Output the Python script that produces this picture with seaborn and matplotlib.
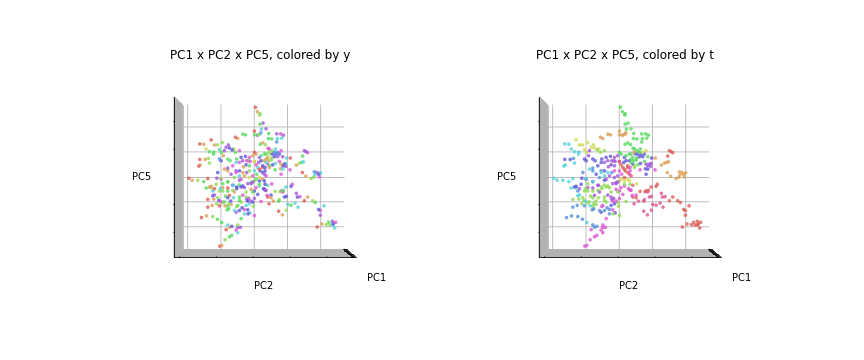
import matplotlib
matplotlib.use("Agg")
import matplotlib.pyplot as plt
import numpy as np
import seaborn as sns

pc2 = [
    0.05, 0.11, 0.19, 0.18, 0.19, 0.28, 0.23, 0.37, 0.02, 0.14,
    0.02, 0.11, 0.20, 0.21, -0.55, -0.48, -0.33, -0.25, 0.27, 0.19,
    -1.28, -1.62, -1.50, -1.18, -1.09, -0.94, -1.43, -1.33, -1.20, -1.21,
    -1.03, -0.97, -0.83, -0.76, -0.73, -0.65, -0.60, -0.55, -0.43, -0.88,
    -0.91, -1.62, -1.46, -1.36, -1.33, -1.65, -1.61, 0.45, 0.69, 0.81,
    0.89, 0.44, 0.54, 0.71, 0.84, 0.69, 0.35, 0.43, 1.52, 1.57,
    1.62, 1.47, 1.49, 1.44, 1.37, 1.28, 1.10, 0.99, 1.09, 1.46,
    1.82, 1.90, 1.84, 1.95, 2.01, 1.56, 1.72, 1.80, 1.97, 0.65,
    0.62, 0.72, 0.57, 0.67, 0.77, 0.62, 0.72, 0.82, 0.87, 0.54,
    0.77, 0.65, 0.82, 0.92, 0.97, 0.87, 0.96, 0.87, 0.80, 0.47,
    0.64, 0.46, 0.50, 0.37, 0.32, 0.42, 0.52, 0.37, 0.47, 0.34,
    0.34, 0.32, 0.82, 0.54, 0.34, 0.64, 0.79, 0.89, 0.97, 1.12,
    1.16, 0.87, 0.82, 0.98, 0.92, 1.28, 1.31, 1.39, 1.62, 1.52,
    1.77, 1.85, 1.24, 1.33, 1.12, 1.02, 0.46, 0.59, 0.75, 0.77,
    0.40, 0.52, 0.42, 0.35, 0.75, 0.86, 0.98, 2.11, 1.95, 2.00,
    2.00, 1.91, 2.05, 2.18, 2.25, 2.36, 2.39, 2.46, 2.36, 2.43,
    2.29, -1.85, -1.68, -1.50, -1.38, -0.99, -0.78, -0.61, -1.43, -1.33,
    -1.28, -1.18, -1.13, -1.23, -1.18, -1.23, -1.38, -1.20, -1.08, -1.38,
    -1.25, -1.03, -0.86, -1.57, -1.42, -1.23, -1.09, -0.96, -0.78, -0.66,
    -0.73, -0.83, -0.48, -0.48, -0.40, -0.53, -0.48, -0.66, -0.73, -0.86,
    -0.96, -1.02, -1.00, -0.89, -0.69, -0.75, -0.80, -0.75, -0.58, -0.51,
    -0.43, -0.18, -0.17, -0.28, 0.02, -0.38, -0.53, -0.18, -0.08, -0.21,
    -0.13, -0.01, -0.23, -0.03, -0.43, -0.38, 0.22, -0.43, -0.58, -0.73,
    -0.78, -0.63, -0.43, -0.18, -0.08, -0.03, 0.07, 0.17, 0.29, -0.03,
    -0.51, -0.38, -0.23, -0.93, -1.00, -0.93, -0.63, -0.38, -0.25, -0.33,
    -0.21, -0.11, 0.02, 0.07, -0.03, 0.15, 0.22, 0.02, -0.13, 0.27,
    0.37, 0.44, -0.53, -0.51, -0.78, -0.71, -1.03, -0.98, -0.88, -0.78,
    -0.63, -0.53, -1.08, -1.11, -0.98, -0.78, -0.53, -0.43, -0.33, -0.28,
    -0.38, -0.43, -0.13, 0.02, 0.17, 0.27, 0.37, 0.17, 0.07, -0.13,
    -0.08, 0.02, 0.17, 0.32, -0.33, -0.43, -0.51, -0.28, -0.08, 0.02,
    0.17, 0.32, 0.37, -0.78, -0.93, -1.03, -1.28, -0.13, 0.02, 0.07,
    0.19, 0.12, 0.27, -0.31, -0.23, -0.43, -0.15, 0.32, 0.42, 0.57,
    0.22, 0.17, 0.55, 0.47, -0.78, -0.68, -0.58, -0.21, -0.03, 0.09,
    0.27, 0.42, 0.52, -0.23, -0.33, -0.61, -0.78, -0.85, -1.05, -1.11,
    -0.93, -0.78, -0.68, -0.48, -0.35, -0.28, -0.11, -0.15, 0.02, 0.12,
    -1.95,
]
pc5 = [
    2.07, 1.94, 1.88, 1.84, 1.57, 1.60, 1.42, 1.43, 1.36, 1.25,
    1.25, 1.24, 1.28, 1.31, 1.18, 1.14, 1.27, 1.25, 1.01, 0.97,
    1.10, 0.98, 0.97, 0.95, 0.95, 1.02, 0.83, 0.75, 0.74, 0.68,
    0.81, 0.73, 0.88, 0.95, 0.86, 0.80, 0.83, 0.73, 0.78, 0.78,
    0.63, 0.52, 0.52, 0.55, 0.41, 0.32, 0.35, 1.29, 1.28, 1.28,
    1.24, 1.14, 1.13, 1.14, 1.15, 1.04, 0.96, 0.85, 0.78, 0.75,
    0.72, 0.62, 0.45, 0.43, 0.41, 0.35, 0.56, 0.56, 0.21, 0.13,
    0.15, 0.13, 0.06, 0.08, 0.12, 0.02, -0.05, -0.01, 0.00, 0.83,
    0.73, 0.73, 0.68, 0.68, 0.68, 0.60, 0.60, 0.78, 0.60, 0.56,
    0.46, 0.40, 0.38, 0.38, 0.40, 0.33, 0.31, 0.23, 0.24, 0.28,
    0.21, 0.73, 0.68, 0.68, 0.68, 0.58, 0.50, 0.43, 0.33, 0.28,
    0.18, 0.08, 0.08, -0.21, -0.22, -0.43, -0.44, -0.40, -0.30, -0.28,
    -0.22, -0.45, -0.42, -0.58, -0.60, -0.49, -0.60, -0.59, -0.60, -0.71,
    -0.71, -0.76, -0.78, -0.90, -0.84, -0.82, -0.80, -0.72, -0.72, -0.68,
    -0.55, -0.62, -0.60, -0.40, -1.02, -1.13, -0.99, -0.86, -0.97, -1.00,
    -1.14, -1.49, -1.40, -1.42, -1.35, -1.32, -1.40, -1.35, -1.43, -1.52,
    -1.43, -0.10, -0.10, -0.14, -0.05, -0.05, -0.15, -0.25, -0.33, -0.30,
    -0.28, -0.35, -0.22, -0.42, -0.54, -0.56, -0.67, -0.66, -0.62, -0.90,
    -0.85, -0.86, -0.86, -1.21, -1.16, -1.18, -1.26, -1.36, -1.43, -1.47,
    -1.50, -1.57, -1.43, -1.50, -1.50, -1.58, -1.66, -1.74, -1.78, -1.87,
    -2.04, -2.06, -0.73, -0.74, -0.72, -0.80, -0.98, -0.95, -1.00, -0.88,
    -1.00, -0.98, -1.10, -1.10, -1.15, -1.24, -1.05, -0.72, -0.72, -0.67,
    -0.80, -0.87, -0.85, -0.75, -0.70, -0.75, -0.73, -0.60, -0.45, -0.55,
    -0.33, -0.25, -0.10, -0.20, -0.20, -0.15, -0.32, -0.22, -0.35, -0.45,
    -0.30, -0.30, -0.45, -0.42, -0.35, -0.20, -0.40, 0.58, 0.61, 0.48,
    0.48, 0.46, 0.73, 0.68, 0.63, 0.43, 0.48, 0.45, 0.33, 0.33,
    0.53, 0.48, 0.43, 0.53, 0.53, 0.48, 0.53, 0.48, 0.23, 0.26,
    0.33, 0.13, 0.13, -0.04, -0.07, -0.14, 0.18, 0.18, 0.13, 0.03,
    -0.07, 0.03, 0.18, 0.18, 0.23, 0.13, 0.03, -0.02, -0.07, -0.02,
    -0.17, -0.12, -0.12, -0.12, -0.27, -0.24, -0.35, -0.32, -0.37, -0.42,
    -0.27, -0.37, -0.40, -0.42, -0.32, -0.42, -0.32, 0.58, 0.46, 0.36,
    0.18, 0.28, 0.28, 0.30, 0.36, 0.43, 0.48, 0.48, 0.38, 0.36,
    0.63, 0.58, 0.78, 0.83, 0.18, 0.08, -0.02, 0.13, 0.03, 0.08,
    -0.07, -0.25, -0.54, -0.60, -0.54, -0.62, -0.62, -0.57, -0.70, -0.80,
    -0.77, -0.87, -0.82, -0.85, -0.92, -0.97, -1.07, -0.64, -0.64, -0.52,
    -0.04,
]
y = [
    0, 1, 3, 3, 4, 9, 6, 9, 0, 3,
    4, 9, 6, 9, 0, 1, 4, 4, 1, 4,
    0, 0, 1, 1, 3, 3, 2, 4, 4, 4,
    5, 4, 9, 9, 8, 8, 3, 4, 10, 9,
    1, 0, 1, 3, 3, 0, 1, 4, 9, 10,
    9, 4, 4, 6, 6, 7, 3, 10, 9, 9,
    10, 4, 6, 4, 3, 1, 0, 6, 10, 0,
    7, 9, 6, 8, 6, 1, 3, 3, 10, 6,
    7, 7, 8, 8, 8, 8, 9, 10, 9, 3,
    10, 6, 1, 8, 6, 8, 9, 6, 1, 1,
    4, 3, 3, 4, 4, 1, 3, 6, 4, 8,
    8, 9, 10, 10, 8, 3, 3, 4, 6, 8,
    10, 10, 9, 8, 8, 9, 8, 10, 1, 0,
    3, 4, 6, 6, 4, 6, 0, 1, 4, 3,
    10, 1, 0, 9, 0, 1, 3, 6, 8, 10,
    9, 0, 1, 3, 4, 9, 8, 10, 6, 6,
    3, 1, 3, 4, 0, 3, 4, 6, 4, 1,
    1, 0, 3, 6, 9, 8, 0, 1, 3, 0,
    1, 0, 1, 0, 1, 3, 4, 4, 6, 8,
    1, 0, 3, 9, 9, 10, 6, 4, 4, 3,
    1, 0, 10, 4, 8, 3, 4, 4, 6, 3,
    8, 8, 8, 6, 10, 4, 9, 8, 9, 9,
    6, 3, 6, 8, 4, 3, 10, 4, 1, 0,
    0, 8, 9, 9, 9, 9, 10, 4, 8, 4,
    8, 8, 3, 3, 6, 4, 3, 8, 8, 9,
    10, 10, 0, 1, 1, 9, 8, 2, 4, 8,
    1, 1, 6, 4, 4, 4, 7, 8, 1, 9,
    10, 10, 8, 9, 10, 3, 9, 8, 1, 1,
    10, 6, 3, 6, 0, 8, 10, 2, 4, 2,
    4, 3, 8, 8, 8, 4, 8, 9, 1, 8,
    5, 9, 9, 4, 1, 3, 3, 10, 1, 10,
    8, 6, 0, 1, 8, 10, 4, 1, 10, 8,
    5, 9, 3, 10, 1, 9, 3, 9, 10, 4,
    1, 5, 8, 3, 10, 6, 8, 4, 8, 3,
    3, 4, 1, 4, 8, 10, 6, 9, 9, 8,
    0,
]
t = [
    4, 4, 4, 4, 4, 4, 4, 4, 1, 1,
    1, 1, 1, 1, 1, 1, 1, 1, 4, 4,
    2, 6, 6, 2, 2, 2, 6, 6, 6, 6,
    2, 2, 2, 2, 2, 3, 2, 3, 3, 9,
    9, 8, 8, 7, 6, 6, 6, 4, 4, 4,
    4, 4, 4, 4, 4, 4, 4, 4, 0, 0,
    0, 0, 1, 1, 1, 1, 1, 8, 10, 1,
    1, 1, 1, 1, 1, 1, 1, 1, 1, 4,
    4, 2, 8, 8, 8, 8, 8, 2, 4, 4,
    4, 8, 9, 9, 9, 9, 9, 8, 8, 3,
    10, 1, 8, 4, 4, 4, 4, 4, 3, 10,
    10, 11, 8, 2, 3, 0, 0, 0, 0, 0,
    0, 11, 11, 11, 11, 11, 11, 11, 0, 0,
    0, 0, 11, 11, 11, 11, 11, 11, 11, 11,
    10, 0, 0, 10, 11, 11, 11, 0, 0, 0,
    0, 0, 0, 0, 0, 0, 0, 0, 0, 0,
    0, 6, 6, 6, 6, 6, 6, 9, 6, 8,
    8, 9, 8, 7, 6, 6, 3, 3, 3, 7,
    7, 7, 6, 7, 7, 7, 7, 6, 7, 7,
    7, 10, 10, 10, 10, 10, 10, 10, 10, 10,
    10, 10, 6, 3, 3, 3, 7, 7, 7, 10,
    7, 10, 3, 7, 3, 10, 8, 10, 10, 9,
    8, 3, 8, 3, 3, 3, 3, 3, 9, 9,
    9, 9, 8, 9, 9, 9, 10, 3, 10, 3,
    3, 3, 3, 3, 3, 3, 3, 8, 8, 9,
    9, 9, 4, 4, 9, 8, 8, 11, 9, 0,
    4, 4, 8, 8, 8, 8, 8, 8, 6, 7,
    8, 6, 7, 8, 8, 8, 7, 8, 6, 9,
    9, 6, 10, 10, 0, 0, 11, 0, 2, 9,
    9, 2, 2, 2, 3, 3, 3, 3, 10, 10,
    10, 10, 10, 3, 9, 3, 6, 9, 0, 0,
    0, 0, 0, 9, 8, 9, 9, 8, 8, 4,
    4, 8, 4, 4, 7, 8, 7, 7, 9, 10,
    2, 11, 10, 9, 9, 3, 3, 3, 3, 3,
    3, 3, 3, 10, 7, 7, 8, 9, 10, 10,
    6,
]

pc1_ticks = [-1, -0.8, -0.6, -0.4, -0.2, 0, 0.2, 0.4, 0.6, 0.8, 1]
pc2_ticks = [-2.1, -1.05, 0, 1.05, 2.1]
pc5_ticks = [-1.56, -0.78, 0, 0.78, 1.56]
panels = [("y", y), ("t", t)]

palette = sns.color_palette("hls", 12)
pc1 = np.zeros(len(pc2))

fig = plt.figure(figsize=(12, 5), dpi=72)
for i, (name, hue) in enumerate(panels):
    ax = fig.add_subplot(1, 2, i + 1, projection="3d")
    ax.set_position([0.125 + i * 0.4225, 0.18, 0.3525, 0.64])
    ax.set_box_aspect((3, 4, 3.58), zoom=1.10)
    colors = [palette[h] for h in hue]
    ax.scatter(pc1, pc2, pc5, c=colors, s=13, alpha=0.8, linewidths=0, depthshade=False)
    ax.view_init(elev=0, azim=0)
    ax.set_xlim(-1, 1)
    ax.set_ylim(-2.26, 2.84)
    ax.set_zlim(-2.26, 2.26)
    ax.set_xticks(pc1_ticks)
    ax.set_yticks(pc2_ticks)
    ax.set_zticks(pc5_ticks)
    ax.set_xticklabels([])
    ax.set_yticklabels([])
    ax.set_zticklabels([])
    ax.set_xlabel("PC1", labelpad=-1)
    ax.set_ylabel("PC2", labelpad=-1)
    ax.set_zlabel("PC5", labelpad=-1)
    ax.set_title(f"PC1 x PC2 x PC5, colored by {name}")
    ax.xaxis.set_pane_color((1, 1, 1, 1))
    ax.yaxis.set_pane_color((0.76, 0.76, 0.76, 1))
    ax.zaxis.set_pane_color((0.76, 0.76, 0.76, 1))

fig.savefig("out.png", dpi=72)
